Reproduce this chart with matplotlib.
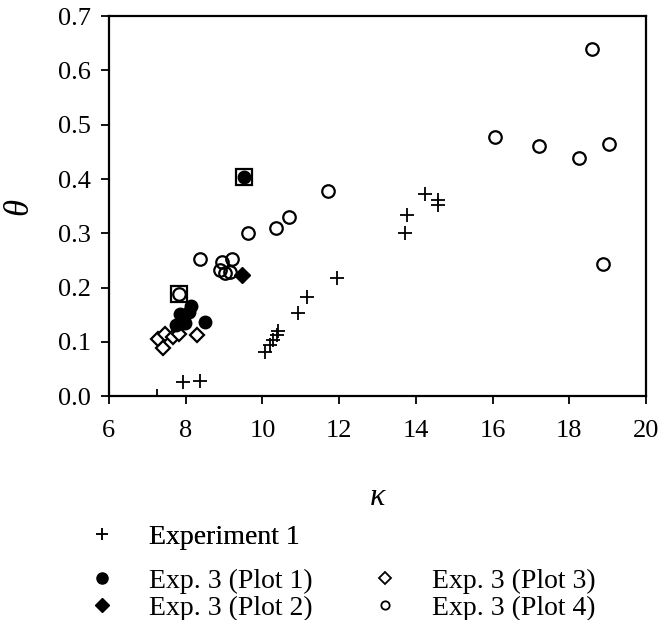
import matplotlib
matplotlib.use("Agg")
import matplotlib.pyplot as plt
from matplotlib.lines import Line2D

plt.rcParams['font.family'] = ['Liberation Serif', 'DejaVu Serif']

# Experiment 1 (plus signs)
exp1_k = [7.25, 7.92, 8.37, 10.07, 10.20, 10.28, 10.37, 10.41, 10.93, 11.15,
          11.95, 13.72, 13.76, 14.24, 14.58, 14.58]
exp1_t = [0.000, 0.026, 0.028, 0.082, 0.094, 0.103, 0.112, 0.120, 0.153, 0.182,
          0.218, 0.300, 0.333, 0.373, 0.361, 0.353]

# Exp. 3, plot 1 (filled circles)
p1_k = [9.52, 8.13, 8.09, 7.85, 8.50, 7.76, 7.98]
p1_t = [0.404, 0.166, 0.155, 0.151, 0.136, 0.131, 0.134]

# Exp. 3, plot 2 (filled diamond)
p2_k = [9.48]
p2_t = [0.223]

# Exp. 3, plot 3 (open diamonds)
p3_k = [7.29, 7.46, 7.42, 7.68, 7.83, 8.29]
p3_t = [0.106, 0.115, 0.088, 0.109, 0.115, 0.112]

# Exp. 3, plot 4 (open circles)
p4_k = [18.60, 16.06, 17.22, 19.04, 18.26, 18.87, 11.70, 10.69, 10.35, 9.63,
        8.37, 8.94, 9.20, 8.89, 9.02, 9.15, 7.83]
p4_t = [0.640, 0.477, 0.461, 0.465, 0.439, 0.244, 0.378, 0.330, 0.309, 0.301,
        0.252, 0.247, 0.252, 0.232, 0.226, 0.229, 0.189]

# points drawn with a square box around them
box_k = [9.52, 7.83]
box_t = [0.404, 0.189]

x_ticks = [6, 8, 10, 12, 14, 16, 18, 20]
y_ticks = [0.0, 0.1, 0.2, 0.3, 0.4, 0.5, 0.6, 0.7]

fig = plt.figure(figsize=(6.6, 6.2), dpi=100)
ax = fig.add_axes([0.165, 0.361, 0.814, 0.613])

ax.plot(exp1_k, exp1_t, linestyle='none', marker='+', markersize=10,
        markeredgewidth=1.3, color='black', zorder=3)
ax.plot(p4_k, p4_t, linestyle='none', marker='o', markersize=9,
        markerfacecolor='none', markeredgewidth=1.6, color='black', zorder=3)
ax.plot(p3_k, p3_t, linestyle='none', marker='D', markersize=7.5,
        markerfacecolor='white', markeredgewidth=1.6, color='black', zorder=4)
ax.plot(p1_k, p1_t, linestyle='none', marker='o', markersize=9,
        color='black', zorder=5)
ax.plot(p2_k, p2_t, linestyle='none', marker='D', markersize=8,
        color='black', zorder=5)
ax.plot(box_k, box_t, linestyle='none', marker='s', markersize=11,
        markerfacecolor='none', markeredgewidth=1.6, color='black', zorder=6)

ax.set_xlim(6, 20)
ax.set_ylim(0, 0.7)
ax.set_xticks(x_ticks)
ax.set_yticks(y_ticks)
ax.set_yticklabels([f'{v:.1f}' for v in y_ticks])
ax.tick_params(axis='both', direction='out', length=6, width=1.3,
               labelsize=19, color='black')
ax.tick_params(axis='x', pad=11)
ax.tick_params(axis='y', pad=7)
for s in ax.spines.values():
    s.set_linewidth(1.6)

ax.set_xlabel('κ', fontsize=23, fontstyle='italic', labelpad=30)
ax.set_ylabel('θ', fontsize=25, fontstyle='italic', labelpad=16)

h_exp1 = Line2D([], [], linestyle='none', marker='+', markersize=8,
                markeredgewidth=1.1, color='black')
h_p1 = Line2D([], [], linestyle='none', marker='o', markersize=8, color='black')
h_p2 = Line2D([], [], linestyle='none', marker='D', markersize=7, color='black')
h_p3 = Line2D([], [], linestyle='none', marker='D', markersize=6,
              markerfacecolor='none', markeredgewidth=1.3, color='black')
h_p4 = Line2D([], [], linestyle='none', marker='o', markersize=6,
              markerfacecolor='none', markeredgewidth=1.3, color='black')

leg_kw = dict(frameon=False, fontsize=20, handlelength=1.0, handletextpad=1.2,
              borderaxespad=0, borderpad=0)
leg1 = fig.legend([h_exp1], ['Experiment 1'], loc='center left',
                  bbox_to_anchor=(0.133, 0.134), **leg_kw)
fig.legend([h_p1, h_p2, h_p3, h_p4],
           ['Exp. 3 (Plot 1)', 'Exp. 3 (Plot 2)', 'Exp. 3 (Plot 3)', 'Exp. 3 (Plot 4)'],
           ncol=2, loc='center left', bbox_to_anchor=(0.133, 0.041),
           columnspacing=2.1, labelspacing=0.05, **leg_kw)
fig.add_artist(leg1)

fig.savefig('out.png', dpi=100)
